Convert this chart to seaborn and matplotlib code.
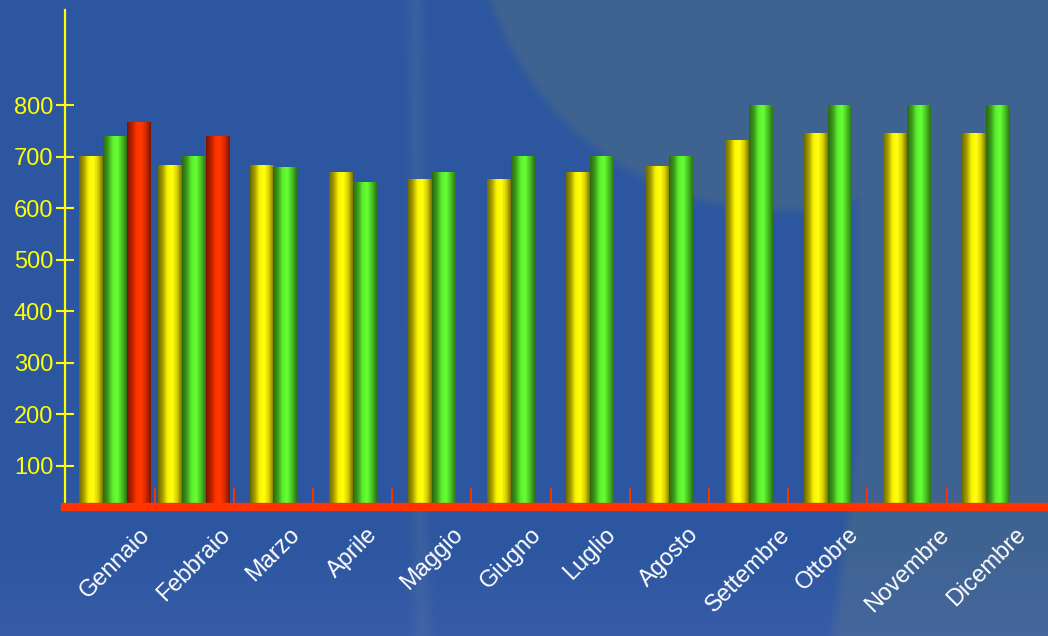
import numpy as np
import pandas as pd
import seaborn as sns
import matplotlib.pyplot as plt
from matplotlib.colors import LinearSegmentedColormap, to_rgb
from matplotlib.ticker import FixedLocator

# Data
mesi = ["Gennaio", "Febbraio", "Marzo", "Aprile", "Maggio", "Giugno",
        "Luglio", "Agosto", "Settembre", "Ottobre", "Novembre", "Dicembre"]
serie_gialla = [700, 684, 684, 670, 655, 655, 670, 682, 731, 745, 745, 745]
serie_verde = [740, 700, 680, 650, 670, 700, 700, 700, 800, 800, 800, 800]
serie_rossa = [767, 740]          # only Gennaio and Febbraio
y_ticks = [100, 200, 300, 400, 500, 600, 700, 800]

rows = []
for i, m in enumerate(mesi):
    rows.append((m, "A", serie_gialla[i]))
    rows.append((m, "B", serie_verde[i]))
    if i < len(serie_rossa):
        rows.append((m, "C", serie_rossa[i]))
df = pd.DataFrame(rows, columns=["mese", "serie", "valore"])

# bar shading: dark edge -> bright highlight -> dark edge
shades = {
    "A": ["#6e6a00", "#a8a000", "#fbf500", "#ffff10", "#d8d000", "#7a7400"],
    "B": ["#2a6a10", "#3c9a1c", "#5cf02e", "#66ff33", "#48c024", "#2d7512"],
    "C": ["#7a1400", "#b82000", "#ff3300", "#ff3a00", "#d02800", "#7c1600"],
}
base = {"A": "#ffff00", "B": "#66ff33", "C": "#ff3300"}

sns.set_theme(style="white")
plt.rcParams["font.family"] = ["Liberation Sans", "DejaVu Sans"]

W, H = 1048, 636
fig = plt.figure(figsize=(W / 100, H / 100), dpi=100)

# background: blue slide, lighter grey-blue disc top right + right band
bg = fig.add_axes([0, 0, 1, 1])
yy, xx = np.mgrid[0:H, 0:W]
left = np.array([44, 86, 160]) / 255
right = np.array([62, 99, 145]) / 255
dist = np.sqrt((xx - 780) ** 2 + (yy + 94) ** 2)
t_disc = np.clip((305 - dist) / 12 + 0.5, 0, 1)
edge = 855 - np.clip(yy - 450, 0, None) * 0.12
t_band = np.clip((xx - edge) / 12 + 0.5, 0, 1)
t = np.maximum(t_disc, t_band)[..., None]
img = left * (1 - t) + right * t
streak = np.exp(-((xx - 415 - yy * 0.01) / 9.0) ** 2)[..., None]
img = img * (1 - 0.18 * streak) + np.array([0.45, 0.55, 0.6]) * 0.18 * streak
bottom = np.clip((yy - 540) / 96, 0, 1)[..., None]
img = img * (1 - 0.25 * bottom) + np.array([0.36, 0.44, 0.75]) * 0.25 * bottom
bg.imshow(img, aspect="auto", extent=[0, W, H, 0])
bg.set_axis_off()

ax = fig.add_axes([65 / W, 1 - 507 / H, (W - 65) / W, (507 - 10) / H])
ax.set_facecolor("none")

sns.barplot(data=df, x="mese", y="valore", hue="serie", order=mesi,
            hue_order=["A", "B", "C"], palette=base, width=0.9,
            legend=False, ax=ax, zorder=2)

# centre the two-bar groups and paint the cylinder shading
has_red = set(range(len(serie_rossa)))
for p in list(ax.patches):
    x0 = p.get_x()
    w = p.get_width()
    h = p.get_height()
    if not np.isfinite(h) or h == 0:
        continue
    idx = int(round(x0 + w / 2))
    if idx not in has_red:
        x0 += w / 2
        p.set_x(x0)
    fc = np.array(p.get_facecolor()[:3])
    key = min(base, key=lambda k: np.sum((np.array(to_rgb(base[k])) - fc) ** 2))
    cmap = LinearSegmentedColormap.from_list("s" + key, shades[key])
    grad = np.linspace(0, 1, 64)[None, :]
    ax.imshow(grad, cmap=cmap, aspect="auto", extent=[x0, x0 + w, 0, h],
              origin="lower", zorder=2.5, interpolation="bilinear")
    p.set_visible(False)

ax.set_xlim(-0.63, 11.78)
ax.set_ylim(20, 985)

for s in ["top", "right"]:
    ax.spines[s].set_visible(False)
ax.spines["left"].set_color("#ffff00")
ax.spines["left"].set_linewidth(1.6)
ax.spines["bottom"].set_color("#ff3300")
ax.spines["bottom"].set_linewidth(6)
ax.spines["bottom"].set_zorder(3)

ax.set_yticks(y_ticks)
ax.set_yticklabels([str(v) for v in y_ticks])
ax.tick_params(axis="y", direction="inout", length=13, width=1.5,
               colors="#ffff00", labelsize=17, pad=2, left=True)

ax.set_xticks(range(len(mesi)))
ax.set_xticklabels(mesi, rotation=45, ha="center", color="white", fontsize=17)
ax.tick_params(axis="x", which="major", length=0, pad=12, bottom=True)
ax.xaxis.set_minor_locator(FixedLocator(np.arange(0.5, len(mesi) - 1, 1.0)))
ax.tick_params(axis="x", which="minor", direction="in", length=14, width=1.3,
               color="#ff3300", bottom=True)

ax.set_xlabel("")
ax.set_ylabel("")
ax.grid(False)

fig.savefig("out.png", dpi=100)
